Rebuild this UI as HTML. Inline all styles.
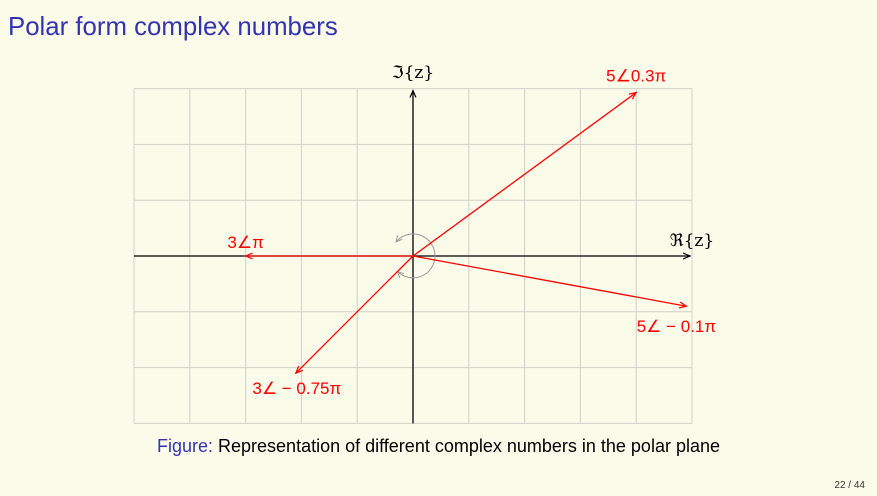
<!DOCTYPE html>
<html><head><meta charset="utf-8"><style>
body{margin:0;width:877px;height:496px;background:#fbfbea;overflow:hidden;font-family:"Liberation Sans",sans-serif;position:relative}
#title{position:absolute;left:8px;top:13px;font-size:25.8px;color:#3333b3}
#cap{position:absolute;left:0;width:877px;top:436px;text-align:center;font-size:18px;color:#000}
#cap span{color:#3333b3}
#pg{position:absolute;right:12px;top:480px;font-size:10px;color:#333}
svg{position:absolute;left:0;top:0}
</style></head><body>
<div id="title">Polar form complex numbers</div>
<svg id="chart" width="877" height="496">
<defs><marker id="ar" markerWidth="8" markerHeight="8" refX="7" refY="4" orient="auto" markerUnits="userSpaceOnUse"><path d="M0,1 L7,4 L0,7" fill="none" stroke="red" stroke-width="1.2"/></marker>
<marker id="ak" markerWidth="8" markerHeight="8" refX="7" refY="4" orient="auto" markerUnits="userSpaceOnUse"><path d="M0,1 L7,4 L0,7" fill="none" stroke="#000" stroke-width="1.2"/></marker>
<marker id="ag" markerWidth="8" markerHeight="8" refX="6" refY="4" orient="auto" markerUnits="userSpaceOnUse"><path d="M0,1 L6,4 L0,7" fill="none" stroke="#999" stroke-width="1"/></marker></defs>
</svg>
<div id="cap"><span>Figure:</span> Representation of different complex numbers in the polar plane</div>
<div id="pg">22 / 44</div>
<script>
const labels=["5∠0.3π","3∠π","5∠ − 0.1π","3∠ − 0.75π"];
const reVals=[4,-3,4.9,-2.1];
const imVals=[2.93,0,-0.9,-2.1];
const svg=document.getElementById('chart');const NS='http://www.w3.org/2000/svg';
const ox=413,oy=256,u=55.8;
const X=v=>ox+v*u, Y=v=>oy-v*u;
function mk(t,a){const e=document.createElementNS(NS,t);for(const k in a)e.setAttribute(k,a[k]);svg.appendChild(e);return e;}
for(let i=-5;i<=5;i++){const l=mk('line',{x1:X(i),x2:X(i),y1:Y(3),y2:Y(-3),stroke:'#d0d0c8','stroke-width':1});

}
for(let j=-3;j<=3;j++){const l=mk('line',{x1:X(-5),x2:X(5),y1:Y(j),y2:Y(j),stroke:'#d0d0c8','stroke-width':1});

}
const xa=mk('line',{x1:X(-5),x2:X(5)-2,y1:oy,y2:oy,stroke:'#000','stroke-width':1.3,'marker-end':'url(#ak)'});


const ya=mk('line',{x1:ox,x2:ox,y1:Y(-3),y2:Y(3)+2,stroke:'#000','stroke-width':1.3,'marker-end':'url(#ak)'});


const xl=mk('text',{x:692,y:246,'font-size':17,'text-anchor':'middle','font-family':'"DejaVu Serif",serif'});xl.textContent='ℜ{z}';


const yl=mk('text',{x:413,y:78,'font-size':17,'text-anchor':'middle','font-family':'"DejaVu Serif",serif'});yl.textContent='ℑ{z}';


const r=22;
const a1=mk('path',{d:`M${ox+r},${oy} A${r},${r} 0 0 0 ${ox-r*0.77},${oy-r*0.64}`,fill:'none',stroke:'#999','stroke-width':1,'marker-end':'url(#ag)'});


const a2=mk('path',{d:`M${ox+r},${oy} A${r},${r} 0 0 1 ${ox-r*0.7},${oy+r*0.71}`,fill:'none',stroke:'#999','stroke-width':1,'marker-end':'url(#ag)'});


for(let i=0;i<labels.length;i++){
const ex=X(reVals[i]),ey=Y(imVals[i]);
const v=mk('line',{x1:ox,y1:oy,x2:ex,y2:ey,stroke:'red','stroke-width':1.3,'marker-end':'url(#ar)'});


let tx=ex,ty=ey;
if(i===0){tx=ex;ty=ey-11;}else if(i===1){tx=ex;ty=ey-8;}else if(i===2){tx=ex-10;ty=ey+26;}else{tx=ex+1;ty=ey+21;}
const t=mk('text',{x:tx,y:ty,'font-size':17,fill:'red','text-anchor':'middle'});t.textContent=labels[i];


}
</script>
</body></html>
